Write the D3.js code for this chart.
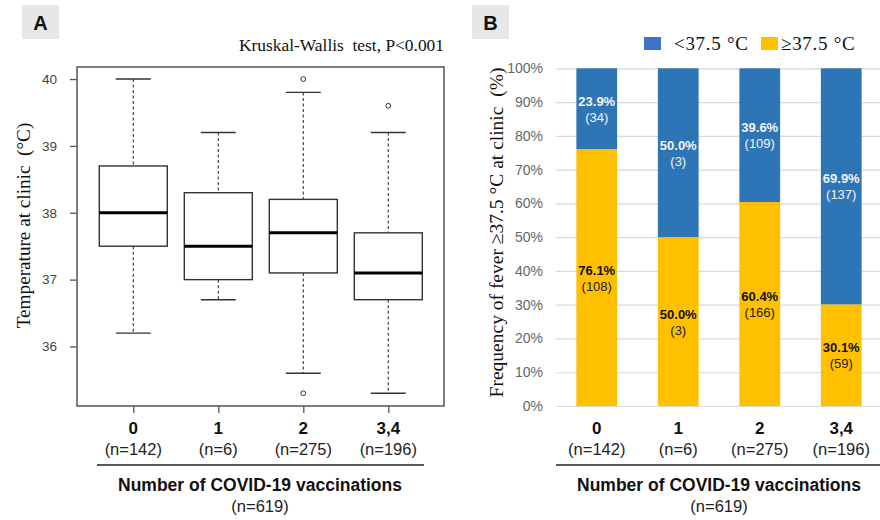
<!DOCTYPE html>
<html><head><meta charset="utf-8">
<script src="https://cdn.jsdelivr.net/npm/d3@7"></script>
<style>
html,body{margin:0;padding:0;background:#fff;}
svg{display:block;}
</style>
</head><body>
<script>
// ---------- data ----------
const categories = ["0", "1", "2", "3,4"];
const groupN = ["(n=142)", "(n=6)", "(n=275)", "(n=196)"];
const totalN = "(n=619)";
const xTitle = "Number of COVID-19 vaccinations";

// Panel A: box plot of temperature
const whiskerLow  = [36.2, 36.7, 35.6, 35.3];
const quartile1   = [37.5, 37.0, 37.1, 36.7];
const medians     = [38.0, 37.5, 37.7, 37.1];
const quartile3   = [38.7, 38.3, 38.2, 37.7];
const whiskerHigh = [40.0, 39.2, 39.8, 39.2];
const outlierCats = ["2", "2", "3,4"];
const outlierVals = [40.0, 35.3, 39.6];
const tempTicks = [36, 37, 38, 39, 40];

// Panel B: stacked percentage bars
const pctFever   = [76.1, 50.0, 60.4, 30.1];   // >=37.5
const cntFever   = [108, 3, 166, 59];
const pctNoFever = [23.9, 50.0, 39.6, 69.9];   // <37.5
const cntNoFever = [34, 3, 109, 137];
const pctTicks = [0, 10, 20, 30, 40, 50, 60, 70, 80, 90, 100];
const seriesNames = ["<37.5 °C", "≥37.5 °C"];

// ---------- drawing ----------
const W = 880, H = 520;
const SANS = "'Liberation Sans', Arial, sans-serif";
const SERIF = "'Liberation Serif', 'Times New Roman', serif";
const svg = d3.select("body").append("svg").attr("width", W).attr("height", H);

function panelTag(x, letter) {
  svg.append("rect").attr("x", x).attr("y", 5).attr("width", 37).attr("height", 34).attr("fill", "#e7e7e7");
  svg.append("text").attr("x", x + 18.5).attr("y", 30).attr("text-anchor", "middle")
    .attr("font-family", SANS).attr("font-weight", "bold").attr("font-size", 20).attr("fill", "#111").text(letter);
}

function xCaptions(xs, lineX0, lineX1, midX) {
  const g = svg.append("g").attr("font-family", SANS);
  categories.forEach((c, i) => {
    g.append("text").attr("x", xs(c)).attr("y", 434).attr("text-anchor", "middle")
      .attr("font-weight", "bold").attr("font-size", 17).attr("fill", "#111").text(c);
    g.append("text").attr("x", xs(c)).attr("y", 455).attr("text-anchor", "middle")
      .attr("font-size", 16.5).attr("fill", "#222").text(groupN[i]);
  });
  g.append("line").attr("x1", lineX0).attr("x2", lineX1).attr("y1", 465).attr("y2", 465)
    .attr("stroke", "#222").attr("stroke-width", 1.3);
  g.append("text").attr("x", midX).attr("y", 491).attr("text-anchor", "middle")
    .attr("font-weight", "bold").attr("font-size", 17.5).attr("fill", "#111").text(xTitle);
  g.append("text").attr("x", midX).attr("y", 512).attr("text-anchor", "middle")
    .attr("font-size", 16.5).attr("fill", "#222").text(totalN);
}

// ===== Panel A =====
panelTag(22, "A");
const A = {l: 77, r: 444, t: 67, b: 406};
const xA = d3.scalePoint().domain(categories).range([133.3, 388.3]);
const yA = d3.scaleLinear().domain([35.11, 40.18]).range([A.b, A.t]);
const boxW = 68, capW = 35;

svg.append("text").attr("x", 444).attr("y", 51).attr("text-anchor", "end")
  .attr("font-family", SERIF).attr("font-size", 17.4).attr("fill", "#111")
  .attr("xml:space", "preserve").text("Kruskal-Wallis  test, P<0.001");

const axA = svg.append("g").attr("transform", `translate(${A.l - 7},0)`)
  .call(d3.axisLeft(yA).tickValues(tempTicks).tickSize(7).tickPadding(6).tickFormat(d3.format("d")));
axA.select(".domain").remove();
axA.selectAll(".tick line").attr("stroke", "#555").attr("stroke-width", 1.3).attr("transform", "translate(7,0)");
axA.selectAll(".tick text").attr("font-family", SANS).attr("font-size", 13.5).attr("fill", "#444");

const axAx = svg.append("g").attr("transform", `translate(0,${A.b})`)
  .call(d3.axisBottom(xA).tickSize(7).tickFormat(""));
axAx.select(".domain").remove();
axAx.selectAll(".tick line").attr("stroke", "#555").attr("stroke-width", 1.3);

svg.append("rect").attr("x", A.l).attr("y", A.t).attr("width", A.r - A.l).attr("height", A.b - A.t)
  .attr("fill", "none").attr("stroke", "#555").attr("stroke-width", 1.5);

const boxes = svg.append("g");
categories.forEach((c, i) => {
  const cx = xA(c);
  const g = boxes.append("g");
  g.append("line").attr("x1", cx).attr("x2", cx).attr("y1", yA(whiskerHigh[i])).attr("y2", yA(quartile3[i]))
    .attr("stroke", "#444").attr("stroke-width", 1.2).attr("stroke-dasharray", "3,2.5");
  g.append("line").attr("x1", cx).attr("x2", cx).attr("y1", yA(quartile1[i])).attr("y2", yA(whiskerLow[i]))
    .attr("stroke", "#444").attr("stroke-width", 1.2).attr("stroke-dasharray", "3,2.5");
  [whiskerHigh[i], whiskerLow[i]].forEach(v => {
    g.append("line").attr("x1", cx - capW / 2).attr("x2", cx + capW / 2).attr("y1", yA(v)).attr("y2", yA(v))
      .attr("stroke", "#333").attr("stroke-width", 1.4);
  });
  g.append("rect").attr("x", cx - boxW / 2).attr("y", yA(quartile3[i])).attr("width", boxW)
    .attr("height", yA(quartile1[i]) - yA(quartile3[i]))
    .attr("fill", "#fff").attr("stroke", "#333").attr("stroke-width", 1.4);
  g.append("line").attr("x1", cx - boxW / 2).attr("x2", cx + boxW / 2).attr("y1", yA(medians[i])).attr("y2", yA(medians[i]))
    .attr("stroke", "#000").attr("stroke-width", 3);
});
outlierVals.forEach((v, i) => {
  boxes.append("circle").attr("cx", xA(outlierCats[i])).attr("cy", yA(v)).attr("r", 2.4)
    .attr("fill", "none").attr("stroke", "#333").attr("stroke-width", 1);
});

svg.append("text").attr("transform", `translate(30,225.5) rotate(-90)`)
  .attr("text-anchor", "middle").attr("font-family", SERIF).attr("font-size", 19.2).attr("fill", "#111")
  .attr("xml:space", "preserve").text("Temperature at clinic  (°C)");

xCaptions(xA, 97, 424, 260);

// ===== Panel B =====
panelTag(472, "B");
const B = {l: 556, r: 880, t: 68.3, b: 406};
const xB = d3.scaleBand().domain(categories).range([556, 882]).paddingInner(0.5).paddingOuter(0.25);
const yB = d3.scaleLinear().domain([0, 100]).range([B.b, B.t]);
const BLUE = "#2E75B6", YEL = "#FFC000";

const gridB = svg.append("g").attr("transform", `translate(${B.l},0)`)
  .call(d3.axisLeft(yB).tickValues(pctTicks).tickSize(-(B.r - B.l)).tickPadding(13).tickFormat(d => d + "%"));
gridB.select(".domain").remove();
gridB.selectAll(".tick line").attr("stroke", "#d9d9d9").attr("stroke-width", 1.2);
gridB.selectAll(".tick text").attr("font-family", SANS).attr("font-size", 14).attr("fill", "#666");

const stackData = categories.map((c, i) => ({cat: c, fever: pctFever[i], nofever: pctNoFever[i]}));
const stacked = d3.stack().keys(["fever", "nofever"])(stackData);
const colors = {fever: YEL, nofever: BLUE};
svg.append("g").selectAll("g").data(stacked).join("g").attr("fill", d => colors[d.key])
  .selectAll("rect").data(d => d).join("rect")
  .attr("x", d => xB(d.data.cat)).attr("width", xB.bandwidth())
  .attr("y", d => yB(d[1])).attr("height", d => yB(d[0]) - yB(d[1]));

const lab = svg.append("g").attr("font-family", SANS).attr("text-anchor", "middle");
stacked.forEach(layer => {
  layer.forEach((d, i) => {
    const cx = xB(d.data.cat) + xB.bandwidth() / 2;
    const cy = (yB(d[0]) + yB(d[1])) / 2;
    const isFever = layer.key === "fever";
    const pct = isFever ? pctFever[i] : pctNoFever[i];
    const cnt = isFever ? cntFever[i] : cntNoFever[i];
    lab.append("text").attr("x", cx).attr("y", cy - 3).attr("font-size", 13).attr("font-weight", "bold")
      .attr("fill", isFever ? "#111" : "#f4f4f4").text(pct.toFixed(1) + "%");
    lab.append("text").attr("x", cx).attr("y", cy + 13).attr("font-size", 13)
      .attr("fill", isFever ? "#222" : "#f4f4f4").text("(" + cnt + ")");
  });
});

const leg = svg.append("g").attr("font-family", SERIF).attr("font-size", 19).attr("fill", "#111")
  .attr("letter-spacing", 0.7);
leg.append("rect").attr("x", 644).attr("y", 37).attr("width", 17).attr("height", 13).attr("fill", "#3F72C8");
leg.append("text").attr("x", 674).attr("y", 50).attr("xml:space", "preserve").text(seriesNames[0]);
leg.append("rect").attr("x", 761).attr("y", 37).attr("width", 17).attr("height", 13).attr("fill", YEL);
leg.append("text").attr("x", 781).attr("y", 50).attr("xml:space", "preserve").text(seriesNames[1]);

svg.append("text").attr("transform", `translate(503,232.5) rotate(-90)`)
  .attr("text-anchor", "middle").attr("font-family", SERIF).attr("font-size", 19.5).attr("fill", "#111")
  .attr("xml:space", "preserve").text("Frequency of fever ≥37.5 °C at clinic  (%)");

xCaptions(d => xB(d) + xB.bandwidth() / 2, 556, 880, 719);
</script>
</body></html>
